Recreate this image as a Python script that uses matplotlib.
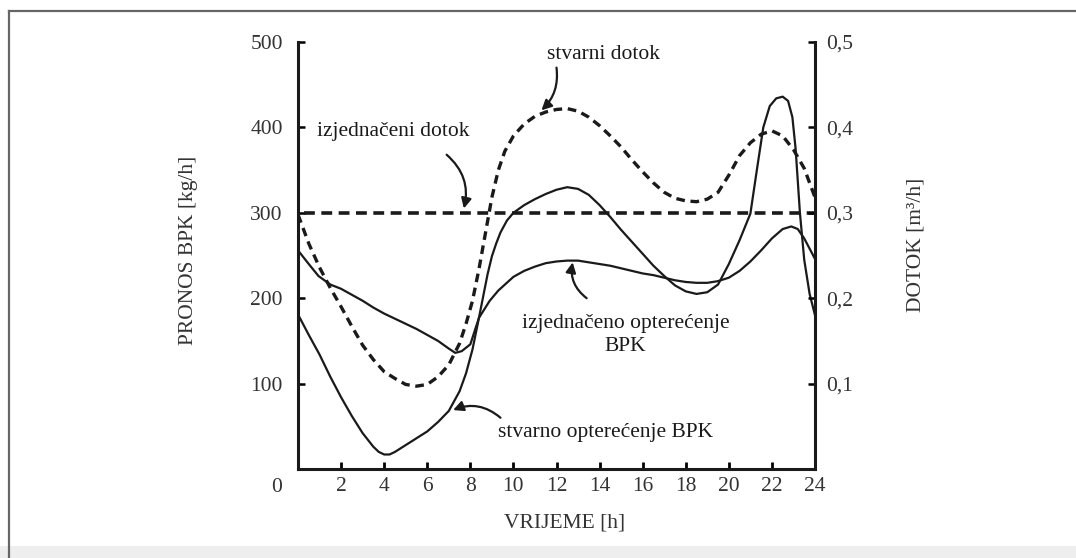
import matplotlib.pyplot as plt
from matplotlib.lines import Line2D
from matplotlib.patches import Rectangle

# stvarni dotok (actual inflow), plotted on the kg/h scale (x1000 = m3/h)
hDotok = [0, 0.5, 1, 1.5, 2, 2.5, 3, 3.5, 4, 4.5, 5, 5.5, 6, 6.5, 7, 7.5, 7.8, 8.1, 8.4, 8.7,
          9, 9.3, 9.6, 10, 10.5, 11, 11.5, 12, 12.5, 13, 13.5, 14, 14.5, 15, 15.5, 16, 16.5,
          17, 17.5, 18, 18.5, 19, 19.5, 20, 20.5, 21, 21.5, 22, 22.5, 23, 23.5, 24]
stvarniDotok = [298, 264, 236, 212, 190, 167, 145, 128, 114, 106, 99, 97, 99, 108, 122, 147, 170, 197, 234, 276,
                318, 350, 372, 390, 404, 413, 418, 421, 422, 419, 412, 402, 390, 377, 362, 348, 335,
                324, 317, 314, 313, 316, 324, 344, 367, 382, 392, 396, 390, 374, 352, 318]

# izjednaceni dotok (equalised inflow)
hIzjDotok = [0.3, 24]
izjDotok = [300, 300]

# stvarno opterecenje BPK (actual BOD load)
hStvOpt = [0, 0.5, 1, 1.5, 2, 2.5, 3, 3.5, 3.75, 4, 4.25, 4.5, 5, 5.5, 6, 6.5, 7, 7.5, 7.8, 8.1,
           8.4, 8.8, 9.0, 9.2, 9.4, 9.7, 10, 10.5, 11, 11.5, 12, 12.5, 13, 13.5, 14, 14.5,
           15, 15.5, 16, 16.5, 17, 17.5, 18, 18.5, 19, 19.5, 20, 20.5, 21, 21.3, 21.6, 21.9,
           22.2, 22.5, 22.75, 22.95, 23.1, 23.3, 23.5, 23.75, 24]
stvarnoOpt = [181, 157, 134, 108, 84, 62, 42, 26, 20, 17, 17, 20, 28, 36, 44, 55, 68, 91, 112, 140,
              177, 228, 249, 264, 277, 291, 300, 309, 316, 322, 327, 330, 328, 321, 309, 295,
              280, 266, 252, 238, 226, 215, 208, 205, 207, 216, 240, 268, 299, 350, 400, 425,
              434, 436, 431, 412, 375, 300, 245, 205, 180]

# izjednaceno opterecenje BPK (equalised BOD load)
hIzjOpt = [0, 0.5, 0.95, 1.5, 2, 2.5, 3, 3.5, 4, 4.5, 5, 5.5, 6, 6.5, 7, 7.3, 7.6, 8, 8.4, 8.9,
           9.3, 10, 10.5, 11, 11.5, 12, 12.5, 13, 13.5, 14, 14.5, 15, 15.5, 16, 16.5, 17,
           17.5, 18, 18.5, 19, 19.5, 20, 20.5, 21, 21.5, 22, 22.5, 22.9, 23.2, 23.5, 24]
izjOpt = [256, 240, 226, 216, 211, 204, 197, 189, 182, 176, 170, 164, 157, 150, 141, 136, 138, 146, 177, 197,
          209, 225, 232, 237, 241, 243, 244, 244, 242, 240, 238, 235, 232, 229, 227, 224,
          221, 219, 218, 218, 220, 224, 232, 243, 256, 270, 281, 284, 281, 270, 246]

xTicks = [2, 4, 6, 8, 10, 12, 14, 16, 18, 20, 22, 24]
yTicks = [100, 200, 300, 400, 500]
yTicksR = [0.1, 0.2, 0.3, 0.4, 0.5]
yLabelsR = ["0,1", "0,2", "0,3", "0,4", "0,5"]

plt.rcParams['font.family'] = ['Liberation Serif', 'DejaVu Serif']
fs = 15.5
ink = '#1a1a1a'
grey = '#333333'

fig = plt.figure(figsize=(10.76, 5.58), dpi=100)
ax = fig.add_axes([298 / 1076, 1 - 469 / 558, 517 / 1076, 427 / 558])

ax.plot(hDotok, stvarniDotok, color=ink, lw=2.4, dashes=(2.6, 1.7))
ax.plot(hIzjDotok, izjDotok, color=ink, lw=2.6, dashes=(3.0, 1.8))
ax.plot(hStvOpt, stvarnoOpt, color=ink, lw=1.6)
ax.plot(hIzjOpt, izjOpt, color=ink, lw=1.6)

ax.set_xlim(0, 24)
ax.set_ylim(0, 500)
ax.set_xticks(xTicks)
ax.set_xticklabels([str(t) for t in xTicks], fontsize=fs, color=grey)
ax.set_yticks(yTicks)
ax.set_yticklabels([str(t) for t in yTicks], fontsize=fs, color=grey)
ax.tick_params(axis='x', direction='in', length=5, width=2, pad=6)
ax.tick_params(axis='y', direction='in', length=5, width=1.8, pad=11)
ax.spines['top'].set_visible(False)
ax.spines['right'].set_visible(False)
for s in ['left', 'bottom']:
    ax.spines[s].set_linewidth(2.2)
    ax.spines[s].set_color(ink)

ax2 = ax.twinx()
ax2.set_ylim(0, 0.5)
ax2.set_yticks(yTicksR)
ax2.set_yticklabels(yLabelsR, fontsize=fs, color=grey)
ax2.tick_params(axis='y', direction='in', length=5, width=1.8, pad=8)
for s in ['top', 'left', 'bottom']:
    ax2.spines[s].set_visible(False)
ax2.spines['right'].set_linewidth(2.2)
ax2.spines['right'].set_color(ink)
ax2.get_yticklines()[-1].set_color('#c84a4a')
ax2.get_yticklines()[-2].set_color('#c84a4a')

arrow = dict(arrowstyle='-|>', color=ink, lw=1.6, mutation_scale=15, shrinkA=0, shrinkB=0)

ax.text(14.2, 485, "stvarni dotok", fontsize=fs, color=ink, ha='center', va='center')
ax.annotate("", xy=(11.3, 420), xytext=(12.0, 470),
            arrowprops=dict(arrow, connectionstyle='arc3,rad=-0.25'))

ax.text(4.4, 395, "izjednačeni dotok", fontsize=fs, color=ink, ha='center', va='center')
ax.annotate("", xy=(7.7, 305), xytext=(6.9, 368),
            arrowprops=dict(arrow, connectionstyle='arc3,rad=-0.3'))

ax.text(15.2, 157, "izjednačeno opterećenje\nBPK", fontsize=fs, color=ink, ha='center', va='center',
        linespacing=1.3)
ax.annotate("", xy=(12.75, 242), xytext=(13.4, 200),
            arrowprops=dict(arrow, connectionstyle='arc3,rad=-0.3'))

ax.text(14.3, 43, "stvarno opterećenje BPK", fontsize=fs, color=ink, ha='center', va='center')
ax.annotate("", xy=(7.2, 69), xytext=(9.4, 60),
            arrowprops=dict(arrow, connectionstyle='arc3,rad=0.3'))

fig.text(277 / 1076, 1 - 488 / 558, "0", fontsize=fs, color=grey, ha='center', va='center')
fig.text(188 / 1076, 1 - 250 / 558, "PRONOS BPK [kg/h]", fontsize=fs, color=grey,
         rotation=90, ha='center', va='center')
fig.text(916 / 1076, 1 - 245 / 558, "DOTOK [m³/h]", fontsize=fs, color=grey,
         rotation=90, ha='center', va='center')
fig.text(565 / 1076, 1 - 523 / 558, "VRIJEME [h]", fontsize=fs, color=grey, ha='center', va='center')

# scanned page frame
fig.add_artist(Line2D([9 / 1076, 1], [1 - 11 / 558, 1 - 11 / 558], color='#666666', lw=1.6))
fig.add_artist(Line2D([9 / 1076, 9 / 1076], [0, 1 - 11 / 558], color='#666666', lw=1.6))
fig.add_artist(Rectangle((0, 0), 1, 12 / 558, color='#eeeeee', lw=0))

fig.savefig("out.png", dpi=100)
